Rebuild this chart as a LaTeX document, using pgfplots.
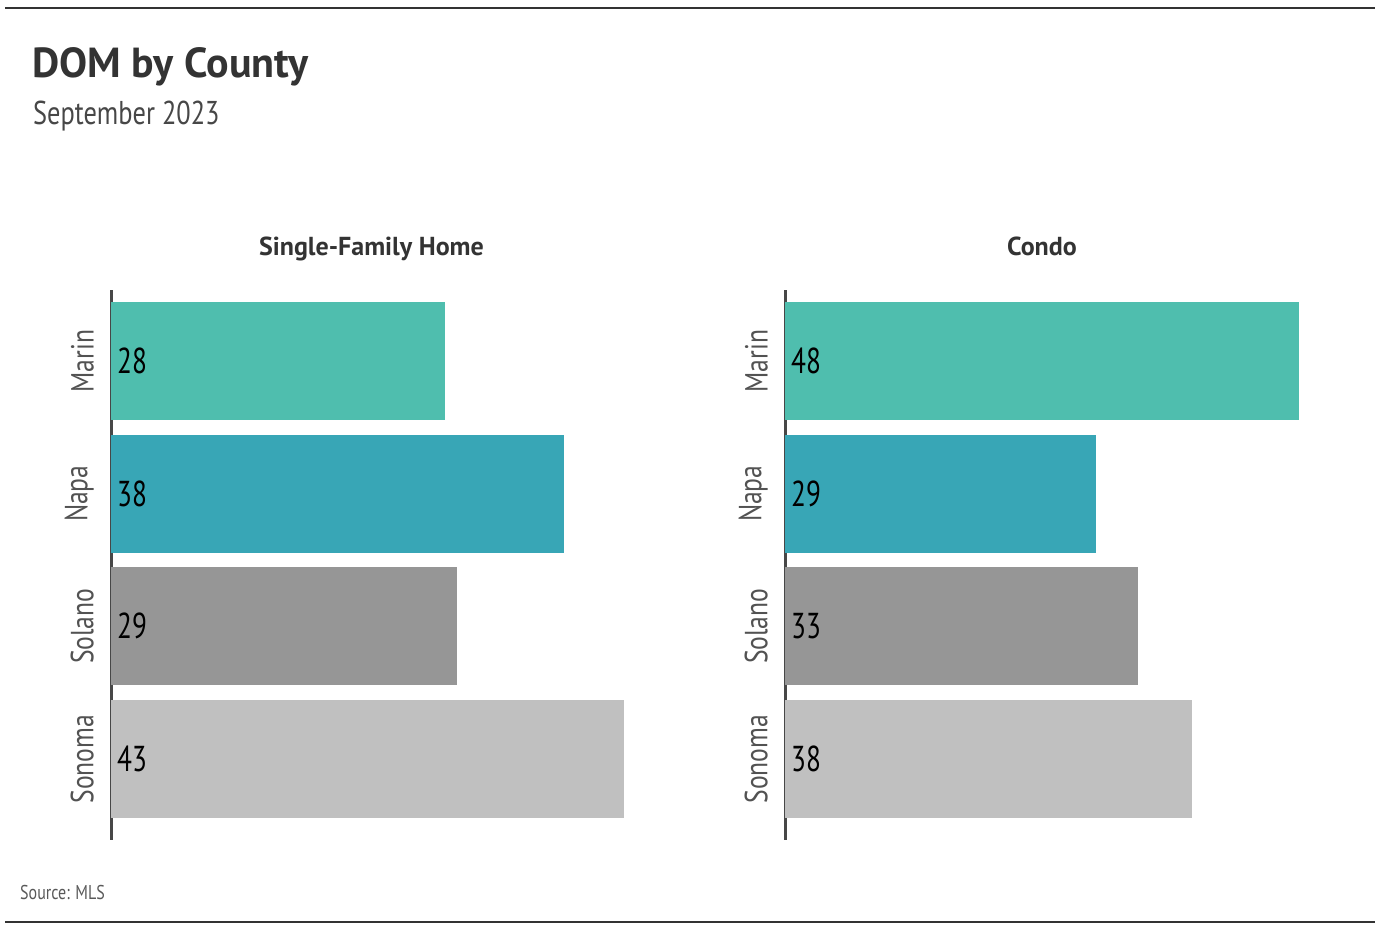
\documentclass[border=0pt]{standalone}
\usepackage{pgfplots}
\pgfplotsset{compat=1.18}
\usepackage{pgfplotstable}
\usepackage{fontspec}
\setmainfont{PT Sans}
\newfontfamily\cond[FakeStretch=0.8]{PT Sans}
\newfontfamily\condb[FakeStretch=0.76]{PT Sans}

\definecolor{marin}{RGB}{79,190,174}
\definecolor{napa}{RGB}{56,166,182}
\definecolor{solano}{RGB}{150,150,150}
\definecolor{sonoma}{RGB}{192,192,192}
\definecolor{ink}{RGB}{51,51,51}

% pos: 0 = Marin, 1 = Napa, 2 = Solano, 3 = Sonoma
\pgfplotstableread{
pos value
0 28
1 38
2 29
3 43
}\sfh
\pgfplotstableread{
pos value
0 48
1 29
2 33
3 38
}\condo

\pgfplotsset{
  dompanel/.style={
    scale only axis,
    height=550pt,
    xmin=0,
    ymin=-0.535, ymax=3.61,
    y dir=reverse,
    axis x line=none,
    axis y line*=left,
    y axis line style={-, draw=black!72, line width=3pt},
    ytick={0,1,2,3},
    yticklabels={Marin,Napa,Solano,Sonoma},
    ytick style={draw=none},
    yticklabel style={xshift=-17pt, rotate=90, anchor=south, inner sep=0pt,
      font=\cond\fontsize{32}{38}\selectfont, text=black!68},
    title style={at={(0.5,1)}, anchor=base, yshift=29pt,
      font=\bfseries\fontsize{26}{31}\selectfont, text=ink},
    clip=false,
  },
  onebar/.style={xbar, bar width=0.89, bar shift=0pt, draw=none, fill=#1},
  vals/.style={draw=none, mark=none, nodes near coords, point meta=explicit symbolic,
    nodes near coords style={anchor=west, inner sep=0pt, xshift=6pt,
      font=\condb\fontsize{36}{40}\selectfont, text=black}},
}

\begin{document}
\begin{tikzpicture}
\path[use as bounding box] (0,0) rectangle (1384pt,-936pt);

\draw[ink, line width=2pt] (5pt,-8pt) -- (1375pt,-8pt);
\draw[ink, line width=2pt] (5pt,-922pt) -- (1375pt,-922pt);

\node[anchor=base west, inner sep=0pt, text=ink,
  font=\bfseries\fontsize{42}{50}\selectfont] at (32pt,-78pt) {DOM by County};
\node[anchor=base west, inner sep=0pt, text=black!72,
  font=\cond\fontsize{33}{39}\selectfont] at (33pt,-125pt) {September 2023};
\node[anchor=base west, inner sep=0pt, text=black!65,
  font=\cond\fontsize{20}{24}\selectfont] at (20pt,-899pt) {Source: MLS};

\begin{axis}[dompanel, at={(111pt,-290pt)}, anchor=north west,
  width=513pt, xmax=43, title={Single-Family Home},
  title style={xshift=4pt}]
  \addplot[onebar=marin, restrict y to domain=-0.1:0.1] table[x=value, y=pos] {\sfh};
  \addplot[onebar=napa, restrict y to domain=0.9:1.1] table[x=value, y=pos] {\sfh};
  \addplot[onebar=solano, restrict y to domain=1.9:2.1] table[x=value, y=pos] {\sfh};
  \addplot[onebar=sonoma, restrict y to domain=2.9:3.1] table[x=value, y=pos] {\sfh};
  \addplot[vals] table[x expr=0, y=pos, meta=value] {\sfh};
\end{axis}

\begin{axis}[dompanel, at={(785pt,-290pt)}, anchor=north west,
  width=514pt, xmax=48, title={Condo}]
  \addplot[onebar=marin, restrict y to domain=-0.1:0.1] table[x=value, y=pos] {\condo};
  \addplot[onebar=napa, restrict y to domain=0.9:1.1] table[x=value, y=pos] {\condo};
  \addplot[onebar=solano, restrict y to domain=1.9:2.1] table[x=value, y=pos] {\condo};
  \addplot[onebar=sonoma, restrict y to domain=2.9:3.1] table[x=value, y=pos] {\condo};
  \addplot[vals] table[x expr=0, y=pos, meta=value] {\condo};
\end{axis}
\end{tikzpicture}
\end{document}
